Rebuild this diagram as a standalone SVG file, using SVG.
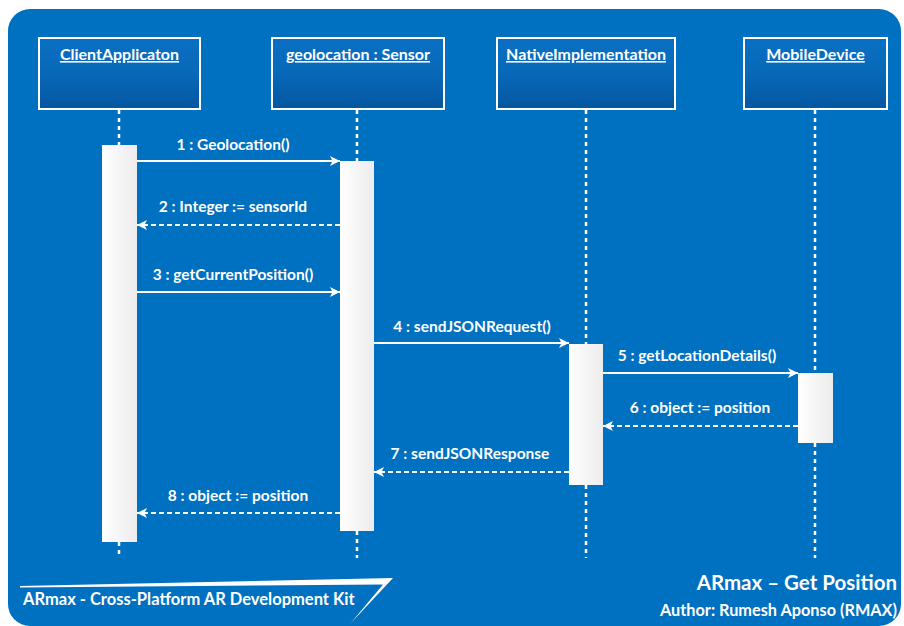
<svg xmlns="http://www.w3.org/2000/svg" width="904" height="626" viewBox="0 0 904 626">
<defs>
<linearGradient id="boxg" x1="0" y1="0" x2="0" y2="1">
<stop offset="0" stop-color="#0a70c4"/>
<stop offset="0.5" stop-color="#0868b8"/>
<stop offset="1" stop-color="#0456a0"/>
</linearGradient>
<linearGradient id="barg" x1="0" y1="0" x2="1" y2="0">
<stop offset="0" stop-color="#ffffff"/>
<stop offset="1" stop-color="#ececec"/>
</linearGradient>
<marker id="ah" viewBox="0 0 10 10" refX="10" refY="5" markerWidth="10" markerHeight="10" markerUnits="userSpaceOnUse" orient="auto">
<path d="M0,0 L10,5 L0,10 L2.5,5 Z" fill="#ffffff"/>
</marker>
<style>
.t{font-family:Lato,"Open Sans","Liberation Sans",sans-serif;font-weight:bold;fill:#ffffff}
.hdr{font-size:16px;text-decoration:underline;text-anchor:middle}
.lbl{font-size:15.5px;text-anchor:middle}
.box{fill:url(#boxg);stroke:#ffffff;stroke-width:2}
.bar{fill:url(#barg)}
.life{stroke:#ffffff;stroke-width:2.5;stroke-dasharray:4,4;fill:none}
.msg{stroke:#ffffff;stroke-width:2.2;fill:none;marker-end:url(#ah)}
.ret{stroke:#ffffff;stroke-width:2.2;fill:none;stroke-dasharray:5,3;marker-end:url(#ah)}
</style>
</defs>
<rect x="0" y="0" width="904" height="626" fill="#ffffff"/>
<rect x="8" y="9" width="893" height="617" rx="22" fill="#0070c0"/>

<g id="lifelines">
<line class="life" x1="119" y1="110" x2="119" y2="145"/>
<line class="life" x1="119" y1="542" x2="119" y2="558"/>
<line class="life" x1="357" y1="110" x2="357" y2="161"/>
<line class="life" x1="357" y1="531" x2="357" y2="558"/>
<line class="life" x1="586" y1="110" x2="586" y2="344"/>
<line class="life" x1="586" y1="485" x2="586" y2="558"/>
<line class="life" x1="815" y1="110" x2="815" y2="373"/>
<line class="life" x1="815" y1="443" x2="815" y2="558"/>
</g>

<g id="ClientApplicaton">
<rect class="box" x="39" y="38" width="161" height="71"/>
<text class="t hdr" x="119.5" y="60">ClientApplicaton</text>
<rect class="bar" x="102" y="145" width="35" height="397"/>
</g>
<g id="geolocationSensor">
<rect class="box" x="272" y="38" width="172" height="71"/>
<text class="t hdr" x="358" y="60">geolocation : Sensor</text>
<rect class="bar" x="340" y="161" width="34" height="370"/>
</g>
<g id="NativeImplementation">
<rect class="box" x="497" y="38" width="178" height="71"/>
<text class="t hdr" x="586" y="60">NativeImplementation</text>
<rect class="bar" x="569" y="344" width="34" height="141"/>
</g>
<g id="MobileDevice">
<rect class="box" x="744" y="38" width="143" height="71"/>
<text class="t hdr" x="815.5" y="60">MobileDevice</text>
<rect class="bar" x="798" y="373" width="35" height="70"/>
</g>

<g id="connectors">
<line class="msg" x1="137" y1="161" x2="340" y2="161"/>
<text class="t lbl" x="233" y="150">1 : Geolocation()</text>
<line class="ret" x1="340" y1="225" x2="137" y2="225"/>
<text class="t lbl" x="233" y="212">2 : Integer := sensorId</text>
<line class="msg" x1="137" y1="292" x2="340" y2="292"/>
<text class="t lbl" x="233" y="280">3 : getCurrentPosition()</text>
<line class="msg" x1="374" y1="343" x2="569" y2="343"/>
<text class="t lbl" x="472" y="332">4 : sendJSONRequest()</text>
<line class="msg" x1="603" y1="373" x2="798" y2="373"/>
<text class="t lbl" x="697" y="361">5 : getLocationDetails()</text>
<line class="ret" x1="798" y1="426" x2="603" y2="426"/>
<text class="t lbl" x="700" y="413">6 : object := position</text>
<line class="ret" x1="569" y1="472" x2="374" y2="472"/>
<text class="t lbl" x="470" y="459">7 : sendJSONResponse</text>
<line class="ret" x1="340" y1="513" x2="137" y2="513"/>
<text class="t lbl" x="238" y="501">8 : object := position</text>
</g>

<g id="footer">
<polygon points="20,586 393,578 350,624 383,584.5 20,587.5" fill="#ffffff"/>
<text class="t" x="23" y="605" font-size="16.5">ARmax - Cross-Platform AR Development Kit</text>
<text class="t" x="897" y="590" font-size="20.5" text-anchor="end">ARmax – Get Position</text>
<text class="t" x="897" y="616" font-size="16.3" text-anchor="end">Author: Rumesh Aponso (RMAX)</text>
</g>
</svg>
